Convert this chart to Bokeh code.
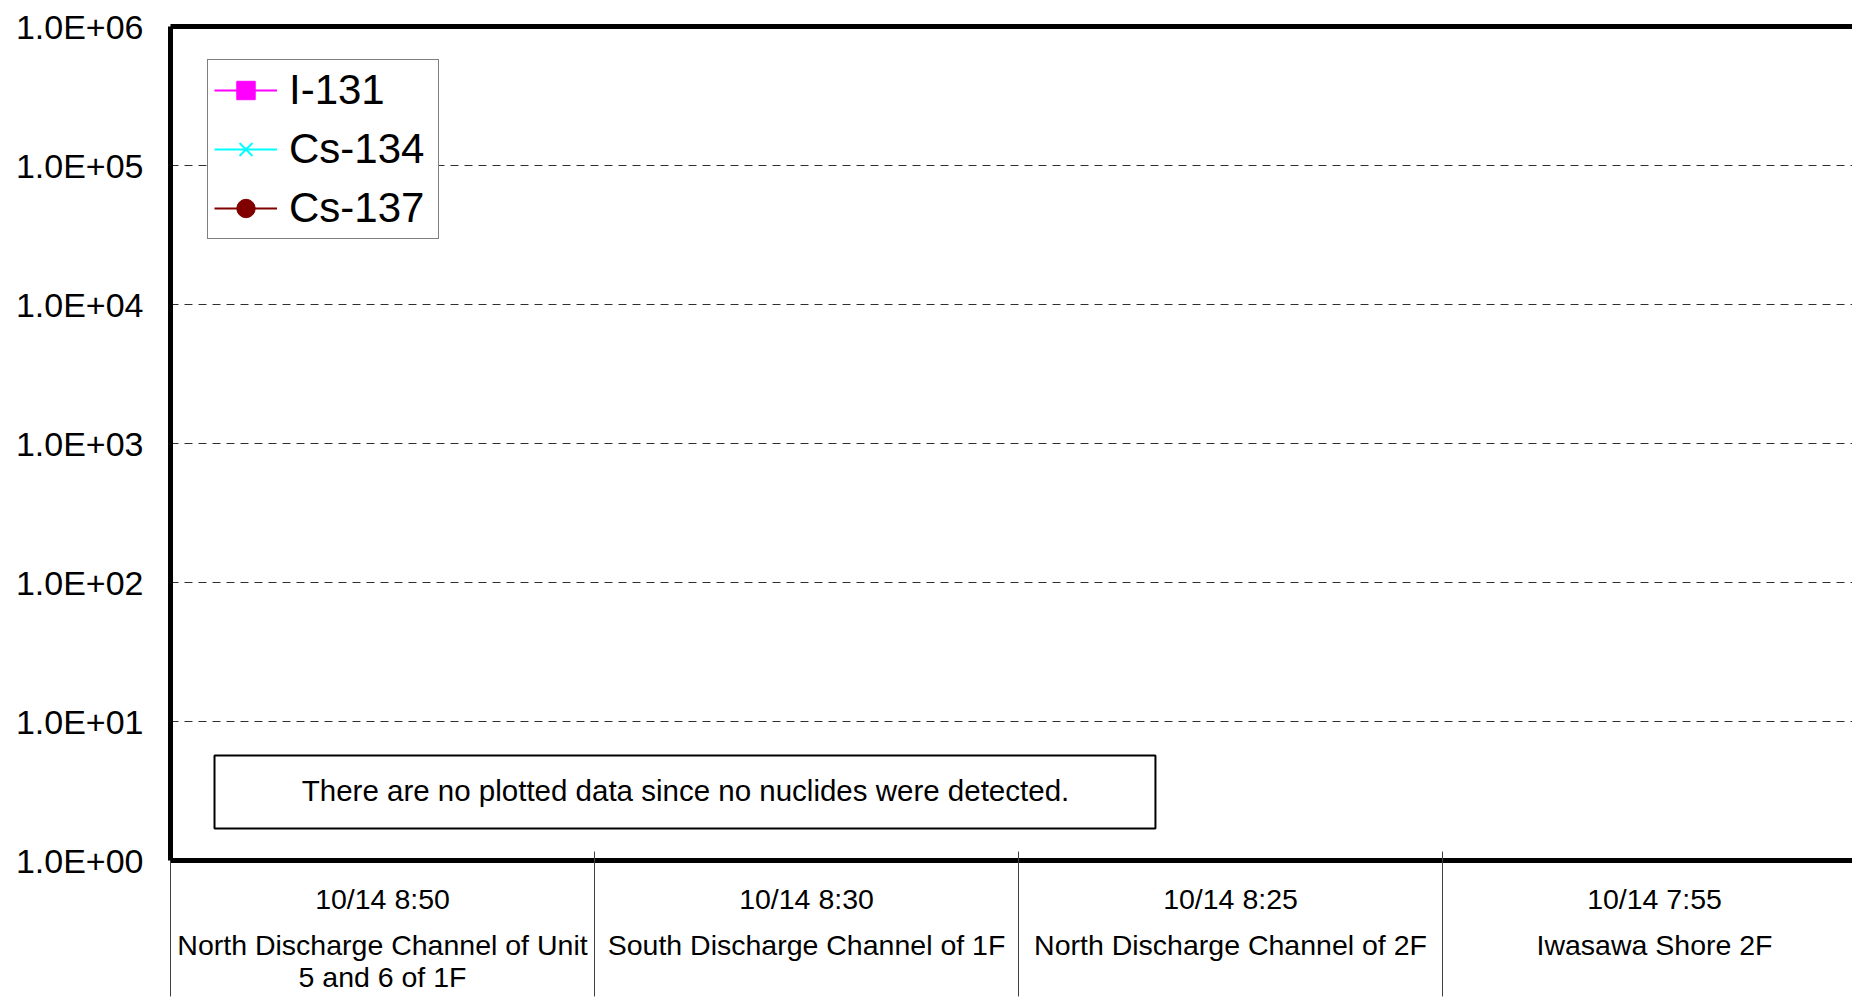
from bokeh.plotting import figure
from bokeh.models import (Range1d, FixedTicker, LinearAxis, Legend, LegendItem,
                          BoxAnnotation, Label)
from bokeh.embed import file_html
from bokeh.resources import INLINE

# ---------------- data ----------------
categories = [
    "North Discharge Channel of Unit\n5 and 6 of 1F",
    "South Discharge Channel of 1F",
    "North Discharge Channel of 2F",
    "Iwasawa Shore 2F",
]
dates = ["10/14 8:50", "10/14 8:30", "10/14 8:25", "10/14 7:55"]

nd = float("nan")  # not detected
i131 = [nd, nd, nd, nd]
cs134 = [nd, nd, nd, nd]
cs137 = [nd, nd, nd, nd]

series_names = ["I-131", "Cs-134", "Cs-137"]
series_colors = ["#FF00FF", "#00FFFF", "#800000"]
series_markers = ["square", "x", "circle"]

y_ticks = [1, 10, 100, 1000, 10000, 100000, 1000000]
y_tick_labels = ["1.0E+00", "1.0E+01", "1.0E+02", "1.0E+03",
                 "1.0E+04", "1.0E+05", "1.0E+06"]

note_text = "There are no plotted data since no nuclides were detected."

FONT = "Liberation Sans"

centers = [i + 0.5 for i in range(len(categories))]
bounds = [i for i in range(len(categories) + 1)]

p = figure(width=1852, height=997, output_backend="svg", toolbar_location=None,
           x_range=Range1d(0, 3.967), y_range=Range1d(1, 1e6),
           y_axis_type="log", x_axis_location=None,
           min_border_left=170, min_border_top=26, min_border_right=0,
           min_border_bottom=137)
p.outline_line_color = None
p.background_fill_color = "white"
p.border_fill_color = "white"

for g in p.xgrid:
    g.visible = False
p.ygrid.ticker = FixedTicker(ticks=y_ticks)
p.ygrid.grid_line_color = "#303030"
p.ygrid.grid_line_width = 1
p.ygrid.grid_line_dash = "8 6"

# left axis
ya = p.yaxis[0]
ya.ticker = FixedTicker(ticks=y_ticks)
ya.major_label_overrides = {t: l for t, l in zip(y_ticks, y_tick_labels)}
ya.axis_line_width = 5
ya.axis_line_color = "black"
ya.major_tick_out = 0
ya.major_tick_in = 0
ya.minor_tick_out = 0
ya.minor_tick_in = 0
ya.major_label_standoff = 27
ya.major_label_text_font = FONT
ya.major_label_text_font_size = "34px"
ya.major_label_text_color = "black"

# top border
top = LinearAxis(ticker=FixedTicker(ticks=[]), axis_line_width=5,
                 axis_line_color="black", major_tick_out=0, major_tick_in=0,
                 minor_tick_out=0, minor_tick_in=0, major_label_standoff=0)
p.add_layout(top, "above")

# bottom axis with dates
date_axis = LinearAxis(
    ticker=FixedTicker(ticks=centers),
    major_label_overrides={c: d for c, d in zip(centers, dates)},
    axis_line_width=5, axis_line_color="black",
    major_tick_out=0, major_tick_in=0, minor_tick_in=0, minor_tick_out=0,
    major_label_standoff=22,
    major_label_text_font=FONT, major_label_text_font_size="28.5px",
    major_label_text_color="black")
p.add_layout(date_axis, "below")

name_axis = LinearAxis(
    ticker=FixedTicker(ticks=centers),
    major_label_overrides={c: n for c, n in zip(centers, categories)},
    axis_line_color=None,
    major_tick_out=0, major_tick_in=0, minor_tick_out=0, minor_tick_in=0,
    major_label_standoff=11,
    major_label_text_font=FONT, major_label_text_font_size="28.5px",
    major_label_text_color="black", major_label_text_line_height=1.03)
p.add_layout(name_axis, "below")

# category separators: long inward ticks of a label-less bottom axis
sep_axis = LinearAxis(
    ticker=FixedTicker(ticks=[], minor_ticks=bounds),
    axis_line_color=None,
    major_tick_out=0, major_tick_in=0,
    minor_tick_in=145, minor_tick_out=0,
    minor_tick_line_color="#404040", minor_tick_line_width=1,
    major_label_standoff=0)
p.add_layout(sep_axis, "below")

# series (empty: no nuclides detected)
items = []
for name, vals, col, mk in zip(series_names, [i131, cs134, cs137],
                                series_colors, series_markers):
    rl = p.line(centers, vals, line_color=col, line_width=2)
    if mk == "x":
        rm = p.scatter(centers, vals, marker=mk, size=22, line_color=col,
                       line_width=2)
    else:
        rm = p.scatter(centers, vals, marker=mk, size=18, fill_color=col,
                       line_color=col)
    items.append(LegendItem(label=name, renderers=[rl, rm]))

legend = Legend(items=items, location=(37, 621), margin=0,
                label_text_font=FONT, label_text_font_size="42px",
                label_text_color="black",
                border_line_color="black", border_line_width=1,
                background_fill_color="white", background_fill_alpha=1,
                padding=6, spacing=11, glyph_width=63, glyph_height=46,
                label_height=46, label_width=143, label_standoff=12)
p.add_layout(legend)

# note box
box = BoxAnnotation(left=0.1038, right=2.323, bottom=1.699, top=5.69,
                    fill_color="white", fill_alpha=1,
                    line_color="black", line_width=2, line_alpha=1)
p.add_layout(box)
note = Label(x=1.2146, y=3.19, text=note_text, text_align="center",
             text_baseline="middle", text_font=FONT, text_font_size="29.5px",
             text_color="black")
p.add_layout(note)

open("out.html", "w").write(file_html(p, INLINE))
